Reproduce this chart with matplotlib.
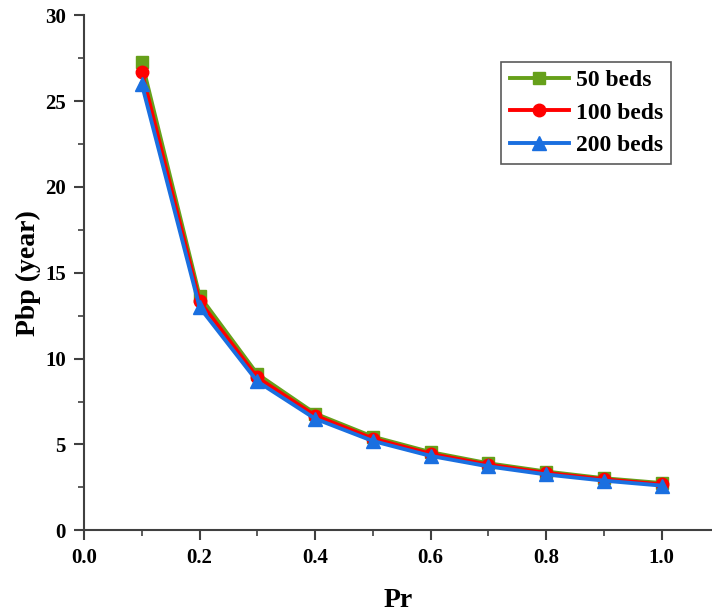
import matplotlib
matplotlib.use("Agg")
import matplotlib.pyplot as plt
from matplotlib.ticker import MultipleLocator

pr = [0.1, 0.2, 0.3, 0.4, 0.5, 0.6, 0.7, 0.8, 0.9, 1.0]
beds50 = [27.3, 13.65, 9.1, 6.8, 5.45, 4.55, 3.9, 3.42, 3.03, 2.75]
beds100 = [26.7, 13.35, 8.9, 6.68, 5.34, 4.45, 3.82, 3.34, 2.97, 2.67]
beds200 = [26.0, 13.0, 8.67, 6.5, 5.2, 4.33, 3.72, 3.25, 2.89, 2.6]
labels = ["50 beds", "100 beds", "200 beds"]

plt.rcParams['font.family'] = ['Liberation Serif', 'DejaVu Serif']
plt.rcParams['font.weight'] = 'bold'

fig = plt.figure(figsize=(7.12, 6.13), dpi=100)
ax = fig.add_axes([0.118, 0.135, 0.882, 0.84])

ax.plot(pr, beds50, color='#66a01a', lw=2.8, marker='s', ms=9, label=labels[0])
ax.plot(pr, beds100, color='#ff0000', lw=2.8, marker='o', ms=9, label=labels[1])
ax.plot(pr, beds200, color='#1a6fe0', lw=2.8, marker='^', ms=10, label=labels[2])

ax.set_xlim(0, 1.087)
ax.set_ylim(0, 30)
ax.xaxis.set_minor_locator(MultipleLocator(0.1))
ax.yaxis.set_major_locator(MultipleLocator(5))
ax.yaxis.set_minor_locator(MultipleLocator(2.5))
ax.set_xticks([0.0, 0.2, 0.4, 0.6, 0.8, 1.0])
ax.set_xticklabels(["0.0", "0.2", "0.4", "0.6", "0.8", "1.0"])

for s in ['top', 'right']:
    ax.spines[s].set_visible(False)
for s in ['left', 'bottom']:
    ax.spines[s].set_color('#404040')
    ax.spines[s].set_linewidth(1.5)

ax.tick_params(which='major', direction='out', length=7, width=1.5, color='#404040',
               labelsize=15, pad=6)
ax.tick_params(which='minor', direction='out', length=4, width=1.2, color='#404040')
for lab in ax.get_xticklabels() + ax.get_yticklabels():
    lab.set_fontweight('bold')

ax.set_xlabel("Pr", fontsize=20, fontweight='bold', labelpad=14)
ax.set_ylabel("Pbp (year)", fontsize=20, fontweight='bold', labelpad=3)

leg = ax.legend(loc='upper right', bbox_to_anchor=(0.935, 0.91),
                frameon=True, fancybox=False, edgecolor='#303030',
                handlelength=2.5, borderpad=0.35, labelspacing=0.45, handletextpad=0.3,
                borderaxespad=0.0, prop={'weight': 'bold', 'size': 17})
leg.get_frame().set_linewidth(1.2)

fig.savefig("out.png", dpi=100)
